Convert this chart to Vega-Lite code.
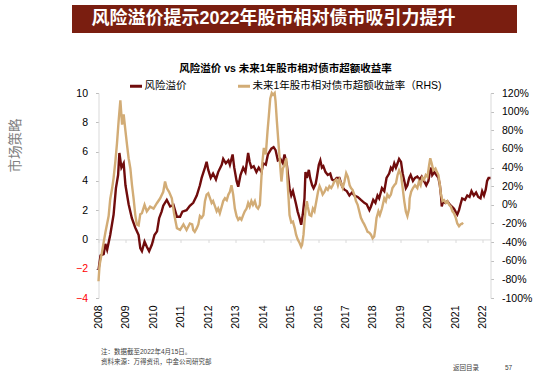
{
  "$schema": "https://vega.github.io/schema/vega-lite/v6.json",
  "autosize": {"type": "pad"},
  "padding": {"left": 8, "top": 5, "right": 19, "bottom": 13},
  "config": {
    "font": "Liberation Sans, Noto Sans CJK SC",
    "view": {"stroke": null},
    "axis": {"grid": false, "labelFontSize": 10.5, "labelColor": "#000000", "domainColor": "#D9D9D9", "tickColor": "#BFBFBF", "tickSize": 3}
  },
  "datasets": {
    "banner": [{"heading": "风险溢价提示2022年股市相对债市吸引力提升"}],
    "premium": [
      {"date": "2008-01-01", "value": -2.1}, {"date": "2008-01-28", "value": -1.1}, {"date": "2008-03-10", "value": -1.0},
      {"date": "2008-04-01", "value": -0.3}, {"date": "2008-04-25", "value": -0.7}, {"date": "2008-06-05", "value": 0.3},
      {"date": "2008-07-20", "value": 1.7}, {"date": "2008-08-20", "value": 3.5}, {"date": "2008-09-18", "value": 4.4},
      {"date": "2008-10-05", "value": 5.9}, {"date": "2008-11-01", "value": 4.9}, {"date": "2008-12-01", "value": 5.2},
      {"date": "2008-12-25", "value": 3.7}, {"date": "2009-02-05", "value": 2.4}, {"date": "2009-03-20", "value": 1.45},
      {"date": "2009-05-05", "value": 0.8}, {"date": "2009-06-18", "value": 0.3}, {"date": "2009-07-10", "value": -0.6},
      {"date": "2009-08-01", "value": -0.8}, {"date": "2009-09-05", "value": -0.15}, {"date": "2009-10-05", "value": -0.5},
      {"date": "2009-11-05", "value": -0.8}, {"date": "2009-12-12", "value": -0.35}, {"date": "2010-01-15", "value": 0.3},
      {"date": "2010-02-18", "value": 0.55}, {"date": "2010-03-18", "value": 1.45}, {"date": "2010-04-20", "value": 1.9},
      {"date": "2010-05-12", "value": 2.3}, {"date": "2010-06-28", "value": 2.7}, {"date": "2010-08-12", "value": 2.25},
      {"date": "2010-09-25", "value": 2.35}, {"date": "2010-11-10", "value": 1.55}, {"date": "2010-12-22", "value": 1.55},
      {"date": "2011-01-22", "value": 1.9}, {"date": "2011-03-18", "value": 2.0}, {"date": "2011-05-01", "value": 2.3},
      {"date": "2011-06-15", "value": 2.5}, {"date": "2011-08-01", "value": 3.0}, {"date": "2011-09-12", "value": 3.7},
      {"date": "2011-10-05", "value": 4.2}, {"date": "2011-11-18", "value": 4.9}, {"date": "2011-12-10", "value": 5.3},
      {"date": "2012-01-01", "value": 4.75}, {"date": "2012-02-03", "value": 4.2}, {"date": "2012-03-05", "value": 4.5},
      {"date": "2012-04-12", "value": 4.1}, {"date": "2012-05-12", "value": 4.6}, {"date": "2012-06-28", "value": 5.1},
      {"date": "2012-07-18", "value": 5.5}, {"date": "2012-08-22", "value": 5.2}, {"date": "2012-09-25", "value": 5.4},
      {"date": "2012-10-15", "value": 5.1}, {"date": "2012-11-20", "value": 5.8}, {"date": "2012-12-12", "value": 4.9},
      {"date": "2013-01-12", "value": 4.0}, {"date": "2013-02-03", "value": 3.6}, {"date": "2013-03-05", "value": 4.4},
      {"date": "2013-04-10", "value": 4.9}, {"date": "2013-05-10", "value": 4.6}, {"date": "2013-06-15", "value": 5.9},
      {"date": "2013-07-05", "value": 5.3}, {"date": "2013-07-28", "value": 4.9}, {"date": "2013-08-28", "value": 5.0},
      {"date": "2013-10-03", "value": 4.6}, {"date": "2013-11-03", "value": 4.9}, {"date": "2013-12-10", "value": 4.6},
      {"date": "2014-01-01", "value": 5.2}, {"date": "2014-02-05", "value": 5.1}, {"date": "2014-03-05", "value": 5.8},
      {"date": "2014-04-20", "value": 6.2}, {"date": "2014-05-20", "value": 6.3}, {"date": "2014-06-15", "value": 6.1},
      {"date": "2014-07-15", "value": 5.4}, {"date": "2014-08-18", "value": 5.5}, {"date": "2014-09-20", "value": 5.2},
      {"date": "2014-10-12", "value": 5.8}, {"date": "2014-11-12", "value": 5.1}, {"date": "2014-12-18", "value": 3.5},
      {"date": "2015-01-10", "value": 3.0}, {"date": "2015-02-01", "value": 3.3}, {"date": "2015-02-25", "value": 2.8},
      {"date": "2015-03-15", "value": 2.4}, {"date": "2015-04-05", "value": 1.9}, {"date": "2015-05-01", "value": 1.45},
      {"date": "2015-05-22", "value": 1.0}, {"date": "2015-06-12", "value": 1.7}, {"date": "2015-07-05", "value": 2.8},
      {"date": "2015-07-18", "value": 4.6}, {"date": "2015-08-05", "value": 4.2}, {"date": "2015-09-01", "value": 4.75},
      {"date": "2015-09-18", "value": 4.2}, {"date": "2015-10-15", "value": 3.7}, {"date": "2015-11-03", "value": 3.5},
      {"date": "2015-12-01", "value": 3.8}, {"date": "2015-12-15", "value": 4.2}, {"date": "2016-01-12", "value": 5.1},
      {"date": "2016-02-01", "value": 5.4}, {"date": "2016-02-22", "value": 4.9}, {"date": "2016-03-12", "value": 5.0},
      {"date": "2016-04-10", "value": 4.6}, {"date": "2016-05-10", "value": 4.4}, {"date": "2016-06-12", "value": 4.5},
      {"date": "2016-07-05", "value": 4.1}, {"date": "2016-08-05", "value": 4.0}, {"date": "2016-09-05", "value": 4.2},
      {"date": "2016-10-12", "value": 4.2}, {"date": "2016-11-18", "value": 3.6}, {"date": "2016-12-18", "value": 3.4},
      {"date": "2017-01-18", "value": 3.3}, {"date": "2017-02-22", "value": 3.0}, {"date": "2017-03-28", "value": 3.2},
      {"date": "2017-04-28", "value": 3.0}, {"date": "2017-06-12", "value": 2.9}, {"date": "2017-07-25", "value": 2.7},
      {"date": "2017-09-08", "value": 2.5}, {"date": "2017-10-10", "value": 2.4}, {"date": "2017-11-15", "value": 2.0},
      {"date": "2017-12-06", "value": 2.25}, {"date": "2018-01-05", "value": 2.7}, {"date": "2018-02-03", "value": 2.5},
      {"date": "2018-03-03", "value": 3.0}, {"date": "2018-03-25", "value": 2.8}, {"date": "2018-05-01", "value": 3.5},
      {"date": "2018-06-01", "value": 3.3}, {"date": "2018-07-01", "value": 4.2}, {"date": "2018-08-05", "value": 4.5},
      {"date": "2018-08-28", "value": 4.9}, {"date": "2018-09-18", "value": 4.75}, {"date": "2018-10-12", "value": 5.2},
      {"date": "2018-11-03", "value": 4.9}, {"date": "2018-11-25", "value": 5.2}, {"date": "2018-12-15", "value": 5.5},
      {"date": "2019-01-10", "value": 5.3}, {"date": "2019-02-01", "value": 4.5}, {"date": "2019-02-22", "value": 4.0},
      {"date": "2019-03-15", "value": 3.5}, {"date": "2019-04-05", "value": 3.7}, {"date": "2019-04-28", "value": 4.2},
      {"date": "2019-05-18", "value": 4.4}, {"date": "2019-06-18", "value": 4.0}, {"date": "2019-07-15", "value": 4.2},
      {"date": "2019-08-15", "value": 4.3}, {"date": "2019-09-15", "value": 4.1}, {"date": "2019-10-12", "value": 4.3},
      {"date": "2019-11-12", "value": 4.0}, {"date": "2019-12-12", "value": 3.7}, {"date": "2020-01-10", "value": 4.0},
      {"date": "2020-01-28", "value": 4.6}, {"date": "2020-02-15", "value": 4.9}, {"date": "2020-03-01", "value": 4.4},
      {"date": "2020-03-28", "value": 4.6}, {"date": "2020-04-25", "value": 4.4}, {"date": "2020-05-22", "value": 4.2},
      {"date": "2020-06-10", "value": 3.7}, {"date": "2020-06-25", "value": 3.0}, {"date": "2020-07-05", "value": 2.25},
      {"date": "2020-07-22", "value": 2.6}, {"date": "2020-08-18", "value": 2.5}, {"date": "2020-09-18", "value": 2.6},
      {"date": "2020-10-18", "value": 2.4}, {"date": "2020-11-15", "value": 2.25}, {"date": "2020-12-15", "value": 2.1},
      {"date": "2021-01-05", "value": 1.9}, {"date": "2021-01-28", "value": 1.7}, {"date": "2021-02-20", "value": 2.0},
      {"date": "2021-03-12", "value": 2.4}, {"date": "2021-04-03", "value": 2.8}, {"date": "2021-05-10", "value": 2.7},
      {"date": "2021-06-10", "value": 3.0}, {"date": "2021-07-10", "value": 2.9}, {"date": "2021-08-05", "value": 3.3},
      {"date": "2021-09-05", "value": 3.0}, {"date": "2021-10-05", "value": 3.2}, {"date": "2021-11-03", "value": 2.9},
      {"date": "2021-12-03", "value": 2.8}, {"date": "2021-12-25", "value": 3.3}, {"date": "2022-01-18", "value": 3.0},
      {"date": "2022-02-10", "value": 3.4}, {"date": "2022-03-01", "value": 4.0}, {"date": "2022-03-20", "value": 4.2},
      {"date": "2022-04-15", "value": 4.2}
    ],
    "excess": [
      {"date": "2008-01-01", "value": -82}, {"date": "2008-01-15", "value": -65}, {"date": "2008-02-18", "value": -50},
      {"date": "2008-04-01", "value": -30}, {"date": "2008-05-15", "value": -12}, {"date": "2008-06-05", "value": 6},
      {"date": "2008-07-01", "value": 18}, {"date": "2008-07-20", "value": 29}, {"date": "2008-08-12", "value": 46},
      {"date": "2008-09-03", "value": 66}, {"date": "2008-09-25", "value": 90}, {"date": "2008-10-18", "value": 112},
      {"date": "2008-11-10", "value": 86}, {"date": "2008-12-01", "value": 97}, {"date": "2008-12-25", "value": 79},
      {"date": "2009-01-15", "value": 64}, {"date": "2009-02-05", "value": 50}, {"date": "2009-02-28", "value": 39},
      {"date": "2009-03-22", "value": 21}, {"date": "2009-04-12", "value": 7}, {"date": "2009-05-05", "value": -11},
      {"date": "2009-05-25", "value": -21}, {"date": "2009-06-18", "value": -22}, {"date": "2009-07-10", "value": -10},
      {"date": "2009-08-01", "value": -9}, {"date": "2009-09-05", "value": 0}, {"date": "2009-10-05", "value": -7},
      {"date": "2009-11-18", "value": -2}, {"date": "2010-01-03", "value": -4}, {"date": "2010-02-18", "value": 2},
      {"date": "2010-04-01", "value": 7}, {"date": "2010-05-12", "value": 14}, {"date": "2010-06-05", "value": 25},
      {"date": "2010-06-28", "value": 18}, {"date": "2010-07-28", "value": 14}, {"date": "2010-09-03", "value": 7},
      {"date": "2010-10-06", "value": -11}, {"date": "2010-11-10", "value": -25}, {"date": "2010-12-22", "value": -27},
      {"date": "2011-02-05", "value": -21}, {"date": "2011-03-18", "value": -27}, {"date": "2011-05-01", "value": -20},
      {"date": "2011-06-01", "value": -21}, {"date": "2011-06-15", "value": -27}, {"date": "2011-07-05", "value": -29},
      {"date": "2011-08-01", "value": -25}, {"date": "2011-08-22", "value": -21}, {"date": "2011-09-12", "value": -12},
      {"date": "2011-10-05", "value": -14}, {"date": "2011-10-28", "value": -11}, {"date": "2011-11-18", "value": 4},
      {"date": "2011-12-10", "value": 11}, {"date": "2012-01-01", "value": 12.5}, {"date": "2012-01-25", "value": 7},
      {"date": "2012-02-15", "value": 2}, {"date": "2012-03-05", "value": 4}, {"date": "2012-04-01", "value": -2},
      {"date": "2012-04-22", "value": -7}, {"date": "2012-05-12", "value": -4}, {"date": "2012-06-03", "value": -9},
      {"date": "2012-06-28", "value": -2}, {"date": "2012-07-18", "value": 4}, {"date": "2012-08-10", "value": 7},
      {"date": "2012-09-03", "value": 5}, {"date": "2012-09-25", "value": 11}, {"date": "2012-10-15", "value": 14},
      {"date": "2012-11-05", "value": 21}, {"date": "2012-11-28", "value": 11}, {"date": "2012-12-20", "value": -4},
      {"date": "2013-01-12", "value": -12}, {"date": "2013-02-03", "value": -16}, {"date": "2013-02-25", "value": -14},
      {"date": "2013-03-18", "value": -16}, {"date": "2013-04-10", "value": -11}, {"date": "2013-05-01", "value": -7},
      {"date": "2013-05-25", "value": -4}, {"date": "2013-06-15", "value": 2}, {"date": "2013-07-05", "value": -2},
      {"date": "2013-07-28", "value": 4}, {"date": "2013-08-18", "value": 0}, {"date": "2013-09-12", "value": 4},
      {"date": "2013-10-03", "value": -2}, {"date": "2013-10-25", "value": -4}, {"date": "2013-11-18", "value": 0},
      {"date": "2013-12-01", "value": 18}, {"date": "2013-12-18", "value": 43}, {"date": "2014-01-10", "value": 61},
      {"date": "2014-02-05", "value": 54}, {"date": "2014-02-28", "value": 79}, {"date": "2014-03-18", "value": 96},
      {"date": "2014-04-05", "value": 114}, {"date": "2014-04-25", "value": 120}, {"date": "2014-05-12", "value": 118},
      {"date": "2014-06-03", "value": 120}, {"date": "2014-06-15", "value": 111}, {"date": "2014-07-03", "value": 89},
      {"date": "2014-07-22", "value": 68}, {"date": "2014-08-08", "value": 50}, {"date": "2014-09-01", "value": 25},
      {"date": "2014-09-20", "value": 39}, {"date": "2014-10-12", "value": 43}, {"date": "2014-11-05", "value": 50},
      {"date": "2014-11-18", "value": 29}, {"date": "2014-12-05", "value": 7}, {"date": "2014-12-18", "value": -11},
      {"date": "2015-01-10", "value": -19}, {"date": "2015-02-01", "value": -18}, {"date": "2015-02-25", "value": -25},
      {"date": "2015-03-15", "value": -32}, {"date": "2015-04-05", "value": -37}, {"date": "2015-05-01", "value": -41},
      {"date": "2015-05-22", "value": -45}, {"date": "2015-06-03", "value": -43}, {"date": "2015-06-22", "value": -32},
      {"date": "2015-07-05", "value": -18}, {"date": "2015-07-18", "value": -7}, {"date": "2015-08-05", "value": 4},
      {"date": "2015-08-18", "value": -2}, {"date": "2015-09-10", "value": -11}, {"date": "2015-10-03", "value": -12},
      {"date": "2015-10-25", "value": -4}, {"date": "2015-11-15", "value": -7}, {"date": "2015-12-10", "value": 4},
      {"date": "2016-01-01", "value": 14}, {"date": "2016-01-22", "value": 20}, {"date": "2016-02-12", "value": 16},
      {"date": "2016-03-03", "value": 11}, {"date": "2016-03-28", "value": 14}, {"date": "2016-04-18", "value": 18},
      {"date": "2016-05-10", "value": 16}, {"date": "2016-06-01", "value": 20}, {"date": "2016-06-25", "value": 18},
      {"date": "2016-07-15", "value": 21}, {"date": "2016-08-05", "value": 25}, {"date": "2016-09-01", "value": 27},
      {"date": "2016-09-22", "value": 21}, {"date": "2016-10-12", "value": 27}, {"date": "2016-11-03", "value": 23},
      {"date": "2016-11-25", "value": 18}, {"date": "2016-12-18", "value": 25}, {"date": "2017-01-10", "value": 34},
      {"date": "2017-02-01", "value": 30}, {"date": "2017-02-25", "value": 21}, {"date": "2017-03-15", "value": 18},
      {"date": "2017-04-05", "value": 16}, {"date": "2017-04-28", "value": 11}, {"date": "2017-05-20", "value": 4},
      {"date": "2017-06-12", "value": 0}, {"date": "2017-07-03", "value": -7}, {"date": "2017-07-25", "value": -14},
      {"date": "2017-08-18", "value": -18}, {"date": "2017-09-08", "value": -21}, {"date": "2017-10-01", "value": -25},
      {"date": "2017-10-22", "value": -29}, {"date": "2017-11-15", "value": -30}, {"date": "2017-12-06", "value": -32},
      {"date": "2017-12-28", "value": -36}, {"date": "2018-01-18", "value": -34}, {"date": "2018-02-03", "value": -25},
      {"date": "2018-02-18", "value": -14}, {"date": "2018-03-15", "value": -7}, {"date": "2018-04-03", "value": -11},
      {"date": "2018-05-01", "value": -4}, {"date": "2018-06-01", "value": 7}, {"date": "2018-06-22", "value": 4},
      {"date": "2018-07-12", "value": 11}, {"date": "2018-08-05", "value": 8}, {"date": "2018-08-28", "value": 11},
      {"date": "2018-09-18", "value": 18}, {"date": "2018-10-12", "value": 21}, {"date": "2018-11-03", "value": 23},
      {"date": "2018-11-25", "value": 32}, {"date": "2018-12-15", "value": 37}, {"date": "2019-01-10", "value": 32},
      {"date": "2019-02-01", "value": 18}, {"date": "2019-02-22", "value": 4}, {"date": "2019-03-15", "value": -7},
      {"date": "2019-04-05", "value": -12}, {"date": "2019-04-28", "value": -4}, {"date": "2019-05-05", "value": 7},
      {"date": "2019-05-25", "value": 14}, {"date": "2019-06-18", "value": 18}, {"date": "2019-07-15", "value": 21},
      {"date": "2019-08-15", "value": 18}, {"date": "2019-09-05", "value": 25}, {"date": "2019-09-28", "value": 21},
      {"date": "2019-10-20", "value": 29}, {"date": "2019-11-12", "value": 27}, {"date": "2019-12-05", "value": 32},
      {"date": "2019-12-28", "value": 30}, {"date": "2020-01-20", "value": 43}, {"date": "2020-02-03", "value": 50},
      {"date": "2020-02-20", "value": 45}, {"date": "2020-03-15", "value": 37}, {"date": "2020-04-12", "value": 39},
      {"date": "2020-04-28", "value": 36}, {"date": "2020-05-22", "value": 32}, {"date": "2020-06-10", "value": 21},
      {"date": "2020-06-25", "value": 11}, {"date": "2020-07-15", "value": 4}, {"date": "2020-08-05", "value": 5},
      {"date": "2020-08-28", "value": 2}, {"date": "2020-09-18", "value": 4}, {"date": "2020-10-12", "value": 0},
      {"date": "2020-11-03", "value": -2}, {"date": "2020-11-25", "value": -7}, {"date": "2020-12-15", "value": -9},
      {"date": "2021-01-08", "value": -14}, {"date": "2021-01-28", "value": -20}, {"date": "2021-02-20", "value": -23},
      {"date": "2021-03-12", "value": -21}, {"date": "2021-04-03", "value": -20}, {"date": "2021-04-15", "value": -21}
    ]
  },
  "vconcat": [
    {
      "width": 445,
      "height": 28,
      "data": {"name": "banner"},
      "layer": [
        {"mark": {"type": "rect", "color": "#7A1E10"}, "encoding": {}},
        {
          "mark": {"type": "text", "color": "#FFFFFF", "fontSize": 18, "fontWeight": "bold", "align": "center", "baseline": "middle", "dx": -21},
          "encoding": {"text": {"field": "heading", "type": "nominal"}}
        }
      ]
    },
    {
      "width": 392,
      "height": 205,
      "layer": [
        {
          "data": {"name": "premium"},
          "mark": {"type": "line", "strokeWidth": 2.4},
          "encoding": {
            "x": {
              "field": "date", "type": "temporal",
              "scale": {"domain": [{"year": 2008, "month": 1, "date": 1}, {"year": 2022, "month": 4, "date": 15}]},
              "axis": {
                "orient": "bottom", "domain": false, "ticks": false, "tickSize": 0,
                "labelAngle": -90, "labelPadding": 7, "labelFontSize": 10.5, "format": "%Y",
                "tickCount": {"interval": "year", "step": 1}, "labelFlush": false, "labelOverlap": false,
                "title": ["注：数据截至2022年4月15日。", "资料来源：万得资讯，中金公司研究部"],
                "titleFontSize": 6.5, "titleFontWeight": "normal", "titleColor": "#404040",
                "titleAnchor": "start", "titleAlign": "left", "titleBaseline": "top",
                "titleX": 2, "titleY": 50, "titleLineHeight": 10
              }
            },
            "y": {
              "field": "value", "type": "quantitative",
              "scale": {"domain": [-4, 10], "nice": false},
              "axis": {
                "orient": "left", "values": [-4, -2, 0, 2, 4, 6, 8, 10],
                "labelColor": {"condition": {"test": "datum.value < 0", "value": "#FF0000"}, "value": "#000000"},
                "labelPadding": 8,
                "title": "市场策略", "titleFontSize": 13.5, "titleFontWeight": "normal", "titleColor": "#7F7F7F",
                "titleAngle": -90, "titleAlign": "center", "titleBaseline": "middle", "titleX": -83, "titleY": 52
              }
            },
            "color": {
              "datum": "风险溢价", "type": "nominal",
              "scale": {"domain": ["风险溢价", "未来1年股市相对债市超额收益率（RHS)"], "range": ["#700C0C", "#D2AC76"]},
              "legend": {
                "orient": "none", "legendX": 30, "legendY": -29, "direction": "horizontal",
                "title": "风险溢价 vs 未来1年股市相对债市超额收益率",
                "titleFontSize": 10.5, "titleFontWeight": "bold", "titleColor": "#000000",
                "titleAnchor": "middle", "titlePadding": 4, "titleLimit": 500,
                "symbolType": "stroke", "symbolSize": 144, "symbolStrokeWidth": 3,
                "labelFontSize": 10.5, "labelColor": "#000000", "labelOffset": 1, "labelLimit": 500, "columnPadding": 45
              }
            }
          }
        },
        {
          "data": {"name": "excess"},
          "mark": {"type": "line", "strokeWidth": 2.4},
          "encoding": {
            "x": {
              "field": "date", "type": "temporal",
              "axis": {
                "orient": "bottom", "offset": -58.57, "labels": false, "domain": true, "ticks": true,
                "tickSize": 3, "domainColor": "#D9D9D9", "tickColor": "#D9D9D9", "title": null,
                "tickCount": {"interval": "year", "step": 1}
              }
            },
            "y": {
              "field": "value", "type": "quantitative",
              "scale": {"domain": [-100, 120], "nice": false},
              "axis": {
                "orient": "right", "values": [-100, -80, -60, -40, -20, 0, 20, 40, 60, 80, 100, 120],
                "labelExpr": "datum.value + '%'", "labelPadding": 8,
                "title": "返回目录　　　　57", "titleAngle": 0, "titleAlign": "left", "titleBaseline": "middle",
                "titleX": -38, "titleY": 274.7, "titleFontSize": 6.5, "titleFontWeight": "normal", "titleColor": "#404040"
              }
            },
            "color": {"datum": "未来1年股市相对债市超额收益率（RHS)", "type": "nominal"}
          }
        }
      ],
      "resolve": {"scale": {"y": "independent"}, "axis": {"x": "independent"}}
    }
  ],
  "spacing": 60,
  "bounds": "flush",
  "center": true,
  "resolve": {"scale": {"color": "independent"}}
}
